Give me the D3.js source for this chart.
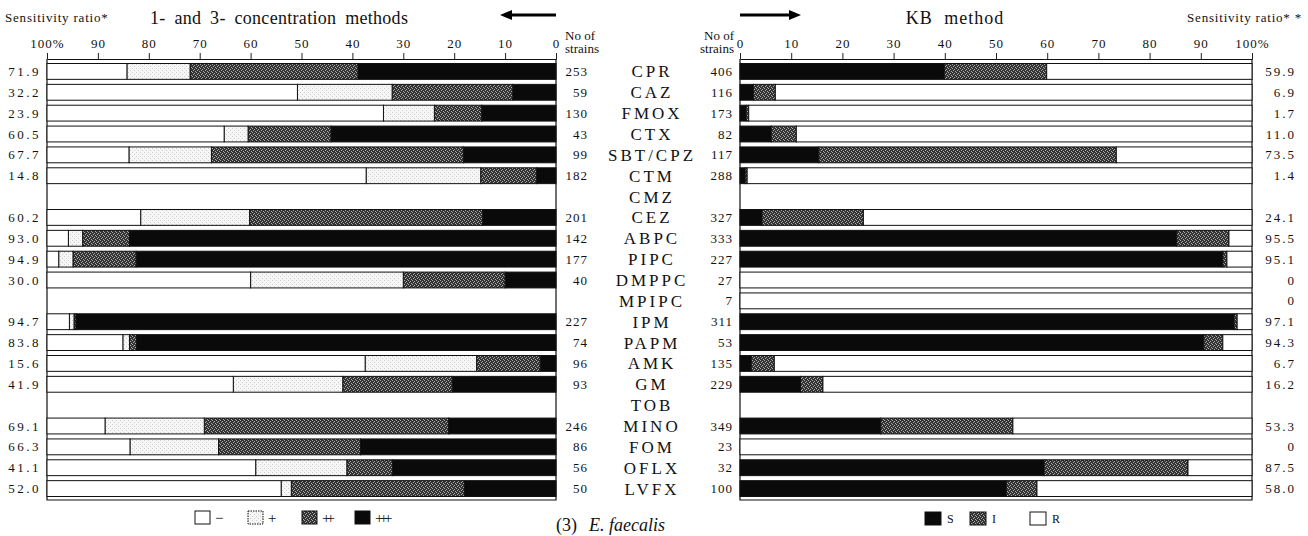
<!DOCTYPE html>
<html>
<head>
<meta charset="utf-8">
<script src="https://cdn.jsdelivr.net/npm/d3@7"></script>
<style>
  body { margin: 0; background: #fff; }
  svg text { font-family: "Liberation Serif", "DejaVu Serif", serif; fill: #111; }
</style>
</head>
<body>
<div class="canvas"></div>
<script>
// drugs, top to bottom
const drugs = ["CPR","CAZ","FMOX","CTX","SBT/CPZ","CTM","CMZ","CEZ","ABPC","PIPC","DMPPC","MPIPC","IPM","PAPM","AMK","GM","TOB","MINO","FOM","OFLX","LVFX"];

// 1- and 3- concentration methods (% of strains), null = not tested
const plus3 = [38.9, 8.5, 14.6, 44.2, 18.2, 3.8, null, 14.4, 83.8, 82.5, 10.0, null, 94.3, 82.4, 3.1, 20.4, null, 21.1, 38.4, 32.1, 18.0];
const plus2 = [33.0, 23.7, 9.3, 16.3, 49.5, 11.0, null, 45.8, 9.2, 12.4, 20.0, null, 0.4, 1.4, 12.5, 21.5, null, 48.0, 27.9, 9.0, 34.0];
const plus1 = [12.4, 18.6, 10.0, 4.7, 16.2, 22.5, null, 21.4, 2.8, 2.8, 30.0, null, 0.9, 1.3, 21.9, 21.5, null, 19.5, 17.4, 17.9, 2.0];
const minus = [15.7, 49.2, 66.1, 34.8, 16.1, 62.7, null, 18.4, 4.2, 2.3, 40.0, null, 4.4, 14.9, 62.5, 36.6, null, 11.4, 16.3, 41.0, 46.0];
const strainsL = [253, 59, 130, 43, 99, 182, null, 201, 142, 177, 40, null, 227, 74, 96, 93, null, 246, 86, 56, 50];
const ratioL = ["71.9","32.2","23.9","60.5","67.7","14.8","","60.2","93.0","94.9","30.0","","94.7","83.8","15.6","41.9","","69.1","66.3","41.1","52.0"];

// KB method (% of strains)
const kbS = [39.9, 2.6, 1.2, 6.1, 15.4, 1.0, null, 4.3, 85.3, 94.3, 0, 0, 96.5, 90.6, 2.2, 11.8, null, 27.5, 0, 59.4, 52.0];
const kbI = [20.0, 4.3, 0.5, 4.9, 58.1, 0.4, null, 19.8, 10.2, 0.8, 0, 0, 0.6, 3.7, 4.5, 4.4, null, 25.8, 0, 28.1, 6.0];
const strainsR = [406, 116, 173, 82, 117, 288, null, 327, 333, 227, 27, 7, 311, 53, 135, 229, null, 349, 23, 32, 100];
const ratioR = ["59.9","6.9","1.7","11.0","73.5","1.4","","24.1","95.5","95.1","0","0","97.1","94.3","6.7","16.2","","53.3","0","87.5","58.0"];

const ticks = [0,10,20,30,40,50,60,70,80,90,100];

const width = 1308, height = 536;
const axisY = 59, frameBottom = 500;

const svg = d3.select(".canvas").append("svg")
  .attr("width", width).attr("height", height);

// patterns
const defs = svg.append("defs");
const pDark = defs.append("pattern").attr("id","dark")
  .attr("patternUnits","userSpaceOnUse").attr("width",4).attr("height",4);
pDark.append("rect").attr("width",4).attr("height",4).attr("fill","#333");
[[0,0],[2,1],[1,2],[3,3]].forEach(([x,y]) =>
  pDark.append("rect").attr("x",x).attr("y",y).attr("width",1).attr("height",1).attr("fill","#aaa"));

const pLight = defs.append("pattern").attr("id","light")
  .attr("patternUnits","userSpaceOnUse").attr("width",4).attr("height",4);
pLight.append("rect").attr("width",4).attr("height",4).attr("fill","#f6f6f6");
[[0,0],[2,2]].forEach(([x,y]) =>
  pLight.append("rect").attr("x",x).attr("y",y).attr("width",1).attr("height",1).attr("fill","#cfcfcf"));

const xL = d3.scaleLinear().domain([0,100]).range([556, 47]);
const xR = d3.scaleLinear().domain([0,100]).range([740, 1252]);
const y = d3.scaleBand().domain(drugs).range([61, 499]).paddingInner(0.24).paddingOuter(0.12);

// axes
const fmt = d => d === 100 ? "100%" : d;
const axL = svg.append("g").attr("transform", `translate(0,${axisY})`)
  .call(d3.axisTop(xL).tickValues(ticks).tickSize(6).tickSizeOuter(0).tickFormat(fmt));
const axR = svg.append("g").attr("transform", `translate(0,${axisY})`)
  .call(d3.axisTop(xR).tickValues(ticks).tickSize(6).tickSizeOuter(0).tickFormat(fmt));
[axL, axR].forEach(ax => {
  ax.attr("font-family", null);
  ax.selectAll("text").attr("font-size", 13).attr("dy", "-0.15em")
    .attr("letter-spacing", 1).attr("fill", "#222");
  ax.select(".domain").attr("stroke", "#111").attr("stroke-width", 1.2);
  ax.selectAll(".tick line").attr("stroke", "#222");
});

// panel frames (sides + bottom)
[[47,556],[740,1252]].forEach(([a,b]) => {
  svg.append("path")
    .attr("d", `M${a},${axisY}V${frameBottom}H${b}V${axisY}`)
    .attr("fill","none").attr("stroke","#111").attr("stroke-width",1.2);
});

// left stacked bars, from 0 (right) outwards
const leftSegs = [
  {key:"plus3", vals:plus3, fill:"#0a0a0a"},
  {key:"plus2", vals:plus2, fill:"url(#dark)"},
  {key:"plus1", vals:plus1, fill:"url(#light)"},
  {key:"minus", vals:minus, fill:"#fff"}
];
const left = svg.append("g");
drugs.forEach((d, i) => {
  if (plus3[i] === null) return;
  let acc = 0;
  leftSegs.forEach(s => {
    const v = s.vals[i];
    left.append("rect")
      .attr("x", xL(acc + v)).attr("y", y(d))
      .attr("width", xL(acc) - xL(acc + v)).attr("height", y.bandwidth())
      .attr("fill", s.fill).attr("stroke", "#111").attr("stroke-width", 1);
    acc += v;
  });
});

// right stacked bars S / I / R
const right = svg.append("g");
drugs.forEach((d, i) => {
  if (kbS[i] === null) return;
  const segs = [
    {v: kbS[i], fill:"#0a0a0a"},
    {v: kbI[i], fill:"url(#dark)"},
    {v: 100 - kbS[i] - kbI[i], fill:"#fff"}
  ];
  let acc = 0;
  segs.forEach(s => {
    if (s.v > 0) {
      right.append("rect")
        .attr("x", xR(acc)).attr("y", y(d))
        .attr("width", xR(acc + s.v) - xR(acc)).attr("height", y.bandwidth())
        .attr("fill", s.fill).attr("stroke", "#111").attr("stroke-width", 1);
    }
    acc += s.v;
  });
});

// row labels
const cy = d => y(d) + y.bandwidth() / 2;
const rows = svg.append("g");
drugs.forEach((d, i) => {
  rows.append("text").attr("x", 652).attr("y", cy(d)).attr("dy", "0.35em")
    .attr("text-anchor", "middle").attr("font-size", 17).attr("letter-spacing", 3).text(d);
  if (strainsL[i] !== null)
    rows.append("text").attr("x", 588).attr("y", cy(d)).attr("dy", "0.35em")
      .attr("text-anchor", "end").attr("font-size", 13).attr("letter-spacing", 1).text(strainsL[i]);
  if (strainsR[i] !== null)
    rows.append("text").attr("x", 733).attr("y", cy(d)).attr("dy", "0.35em")
      .attr("text-anchor", "end").attr("font-size", 13).attr("letter-spacing", 1).attr("fill", "#333").text(strainsR[i]);
  rows.append("text").attr("x", 41).attr("y", cy(d)).attr("dy", "0.35em")
    .attr("text-anchor", "end").attr("font-size", 13).attr("letter-spacing", 2.5).text(ratioL[i]);
  rows.append("text").attr("x", 1296).attr("y", cy(d)).attr("dy", "0.35em")
    .attr("text-anchor", "end").attr("font-size", 13).attr("letter-spacing", 2).attr("fill", "#555").text(ratioR[i]);
});

// headers
svg.append("text").attr("x", 565).attr("y", 40).attr("font-size", 13).text("No of");
svg.append("text").attr("x", 565).attr("y", 53).attr("font-size", 13).text("strains");
svg.append("text").attr("x", 734).attr("y", 40).attr("font-size", 13).attr("text-anchor","end").text("No of");
svg.append("text").attr("x", 734).attr("y", 53).attr("font-size", 13).attr("text-anchor","end").text("strains");

svg.append("text").attr("x", 5).attr("y", 22).attr("font-size", 13).attr("letter-spacing", 0.8).text("Sensitivity ratio*");
svg.append("text").attr("x", 150).attr("y", 24).attr("font-size", 18).attr("letter-spacing", 0.3).attr("word-spacing", 4).text("1- and 3- concentration methods");
svg.append("text").attr("x", 955).attr("y", 24).attr("font-size", 18).attr("text-anchor","middle").attr("letter-spacing", 1).attr("word-spacing", 6).text("KB method");
svg.append("text").attr("x", 1302).attr("y", 22).attr("font-size", 13).attr("text-anchor","end").attr("fill","#555").attr("letter-spacing", 0.8).text("Sensitivity ratio* *");

// arrows
svg.append("line").attr("x1", 510).attr("x2", 556).attr("y1", 15).attr("y2", 15).attr("stroke","#000").attr("stroke-width",3);
svg.append("path").attr("d", "M500,15L512,10L512,20Z").attr("fill","#000");
svg.append("line").attr("x1", 740).attr("x2", 790).attr("y1", 15).attr("y2", 15).attr("stroke","#000").attr("stroke-width",3);
svg.append("path").attr("d", "M801,15L789,10L789,20Z").attr("fill","#000");

// legends
const legL = [
  {x:195, fill:"#fff", label:"−", dash:null},
  {x:248, fill:"url(#light)", label:"+", dash:"1.5,1"},
  {x:302, fill:"url(#dark)", label:"++", dash:null},
  {x:355, fill:"#0a0a0a", label:"+++", dash:null}
];
legL.forEach(l => {
  svg.append("rect").attr("x", l.x).attr("y", 511).attr("width", 15).attr("height", 13)
    .attr("fill", l.fill).attr("stroke", "#111").attr("stroke-dasharray", l.dash);
  svg.append("text").attr("x", l.x + 20).attr("y", 523).attr("font-size", 15)
    .attr("letter-spacing", -4).text(l.label);
});
const legR = [
  {x:925, fill:"#0a0a0a", label:"S"},
  {x:970, fill:"url(#dark)", label:"I"},
  {x:1030, fill:"#fff", label:"R"}
];
legR.forEach(l => {
  svg.append("rect").attr("x", l.x).attr("y", 512).attr("width", 16).attr("height", 13)
    .attr("fill", l.fill).attr("stroke", "#111");
  svg.append("text").attr("x", l.x + 22).attr("y", 523).attr("font-size", 12).attr("fill","#444").text(l.label);
});

// caption
const cap = svg.append("text").attr("x", 556).attr("y", 531).attr("font-size", 18);
cap.append("tspan").text("(3)");
cap.append("tspan").attr("font-style", "italic").attr("dx", 12).text("E. faecalis");
</script>
</body>
</html>
